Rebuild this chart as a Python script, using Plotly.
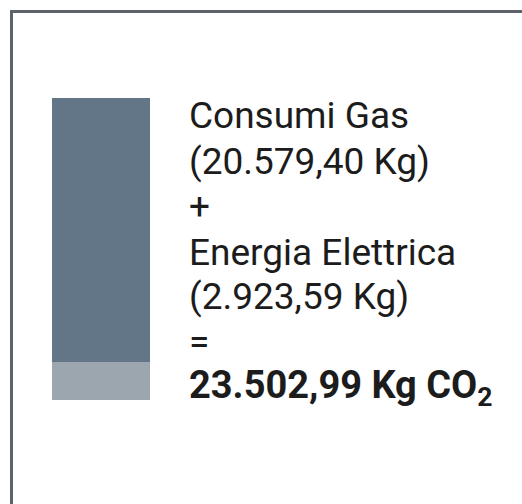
import plotly.graph_objects as go

# Data
categories = ["CO₂"]
series_names = ["Consumi Gas", "Energia Elettrica"]
gas_values = [20579.40]
elec_values = [2923.59]
total_value = 23502.99

text_lines = [
    "Consumi Gas",
    "(20.579,40 Kg)",
    "+",
    "Energia Elettrica",
    "(2.923,59 Kg)",
    "=",
    "<b>23.502,99 Kg CO<sub>2</sub></b>",
]
text_sizes = [37, 37, 37, 37, 37, 37, 38]

W, H = 522, 504

fig = go.Figure()
fig.add_trace(go.Bar(x=categories, y=elec_values, name=series_names[1],
                     marker=dict(color="#9ba6ae", line=dict(width=0))))
fig.add_trace(go.Bar(x=categories, y=gas_values, name=series_names[0],
                     marker=dict(color="#637687", line=dict(width=0))))

# text lines
baselines = [127, 172, 217, 263, 307, 352, 398]
for t, b, s in zip(text_lines, baselines, text_sizes):
    fig.add_annotation(
        x=187 / W, y=1 - (b - 11) / H, xref="paper", yref="paper",
        text=t, showarrow=False, xanchor="left", yanchor="middle",
        font=dict(family="Roboto", size=s, color="#1c1c1c"),
    )

fig.update_layout(
    width=W, height=H,
    margin=dict(l=0, r=0, t=0, b=0),
    paper_bgcolor="#ffffff", plot_bgcolor="rgba(0,0,0,0)",
    barmode="stack", bargap=0, showlegend=False,
    xaxis=dict(domain=[52 / W, 150 / W], visible=False, fixedrange=True),
    yaxis=dict(domain=[1 - 400 / H, 1 - 98 / H], range=[0, total_value],
               visible=False, fixedrange=True),
    shapes=[dict(type="rect", xref="paper", yref="paper",
                 x0=11.5 / W, x1=1.05, y0=-0.05, y1=1 - 11.5 / H,
                 line=dict(color="#5d636b", width=3), fillcolor="rgba(0,0,0,0)",
                 layer="below")],
)

fig.write_html("out.html", config={"displayModeBar": False},
               post_script="document.body.style.margin='0';document.body.style.overflow='hidden';")
